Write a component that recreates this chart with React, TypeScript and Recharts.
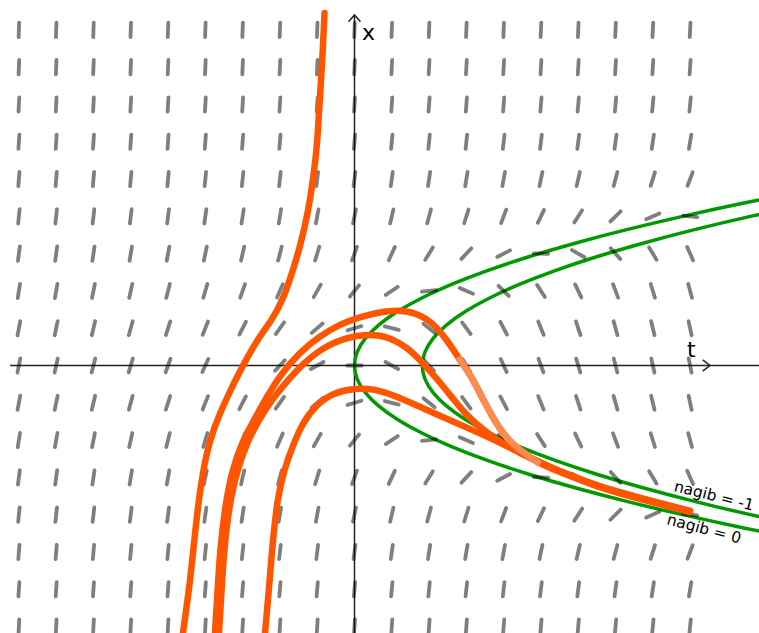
import React from 'react';
import { ComposedChart, XAxis, YAxis, Line, Scatter, ReferenceLine } from 'recharts';

// ---- view (t horizontal, x vertical) ----
const T_DOMAIN: [number, number] = [-5.2286, 5.9661];
const X_DOMAIN: [number, number] = [-3.9454, 5.3909];

// ---- slope field grid (x' = x^2 - t) ----
const fieldT = [-4.95, -4.4, -3.85, -3.3, -2.75, -2.2, -1.65, -1.1, -0.55, 0, 0.55, 1.1, 1.65, 2.2, 2.75, 3.3, 3.85, 4.4, 4.95];
const fieldX = [4.95, 4.4, 3.85, 3.3, 2.75, 2.2, 1.65, 1.1, 0.55, 0, -0.55, -1.1, -1.65, -2.2, -2.75, -3.3, -3.85];

const slopeRow9 = [29.45, 28.9, 28.35, 27.8, 27.25, 26.7, 26.15, 25.6, 25.05, 24.5, 23.95, 23.4, 22.85, 22.3, 21.75, 21.2, 20.65, 20.1, 19.55];
const slopeRow8 = [24.31, 23.76, 23.21, 22.66, 22.11, 21.56, 21.01, 20.46, 19.91, 19.36, 18.81, 18.26, 17.71, 17.16, 16.61, 16.06, 15.51, 14.96, 14.41];
const slopeRow7 = [19.77, 19.22, 18.67, 18.12, 17.57, 17.02, 16.47, 15.92, 15.37, 14.82, 14.27, 13.72, 13.17, 12.62, 12.07, 11.52, 10.97, 10.42, 9.87];
const slopeRow6 = [15.84, 15.29, 14.74, 14.19, 13.64, 13.09, 12.54, 11.99, 11.44, 10.89, 10.34, 9.79, 9.24, 8.69, 8.14, 7.59, 7.04, 6.49, 5.94];
const slopeRow5 = [12.51, 11.96, 11.41, 10.86, 10.31, 9.76, 9.21, 8.66, 8.11, 7.56, 7.01, 6.46, 5.91, 5.36, 4.81, 4.26, 3.71, 3.16, 2.61];
const slopeRow4 = [9.79, 9.24, 8.69, 8.14, 7.59, 7.04, 6.49, 5.94, 5.39, 4.84, 4.29, 3.74, 3.19, 2.64, 2.09, 1.54, 0.99, 0.44, -0.11];
const slopeRow3 = [7.67, 7.12, 6.57, 6.02, 5.47, 4.92, 4.37, 3.82, 3.27, 2.72, 2.17, 1.62, 1.07, 0.52, -0.03, -0.58, -1.13, -1.68, -2.23];
const slopeRow2 = [6.16, 5.61, 5.06, 4.51, 3.96, 3.41, 2.86, 2.31, 1.76, 1.21, 0.66, 0.11, -0.44, -0.99, -1.54, -2.09, -2.64, -3.19, -3.74];
const slopeRow1 = [5.25, 4.7, 4.15, 3.6, 3.05, 2.5, 1.95, 1.4, 0.85, 0.3, -0.25, -0.8, -1.35, -1.9, -2.45, -3.0, -3.55, -4.1, -4.65];
const slopeRow0 = [4.95, 4.4, 3.85, 3.3, 2.75, 2.2, 1.65, 1.1, 0.55, 0, -0.55, -1.1, -1.65, -2.2, -2.75, -3.3, -3.85, -4.4, -4.95];
// rows from top (x = 4.95) to bottom (x = -3.85); the field is symmetric in x
const slopeRows = [slopeRow9, slopeRow8, slopeRow7, slopeRow6, slopeRow5, slopeRow4, slopeRow3, slopeRow2, slopeRow1, slopeRow0,
  slopeRow1, slopeRow2, slopeRow3, slopeRow4, slopeRow5, slopeRow6, slopeRow7];

// ---- isoclines (green) as [t, x] points ----
const isoZero = [
  [6.76, 2.6], [5.76, 2.4], [4.84, 2.2], [4.0, 2.0], [3.24, 1.8], [2.56, 1.6], [1.96, 1.4], [1.44, 1.2], [1.0, 1.0], [0.64, 0.8],
  [0.36, 0.6], [0.16, 0.4], [0.04, 0.2], [0, 0], [0.04, -0.2], [0.16, -0.4], [0.36, -0.6], [0.64, -0.8], [1.0, -1.0], [1.44, -1.2],
  [1.96, -1.4], [2.56, -1.6], [3.24, -1.8], [4.0, -2.0], [4.84, -2.2], [5.76, -2.4], [6.76, -2.6],
];
const isoMinusOne = [
  [6.76, 2.4], [5.84, 2.2], [5.0, 2.0], [4.24, 1.8], [3.56, 1.6], [2.96, 1.4], [2.44, 1.2], [2.0, 1.0], [1.64, 0.8], [1.36, 0.6],
  [1.16, 0.4], [1.04, 0.2], [1.0, 0], [1.04, -0.2], [1.16, -0.4], [1.36, -0.6], [1.64, -0.8], [2.0, -1.0], [2.44, -1.2], [2.96, -1.4],
  [3.56, -1.6], [4.24, -1.8], [5.0, -2.0], [5.84, -2.2], [6.76, -2.4],
];

// ---- solution curves (orange) as [t, x] points ----
const solA = [
  [-2.53, -3.945], [-2.426, -3.208], [-2.353, -2.47], [-2.279, -1.836], [-2.19, -1.32], [-2.087, -0.951], [-1.881, -0.465],
  [-1.66, -0.022], [-1.438, 0.376], [-1.217, 0.671], [-1.055, 0.966], [-0.907, 1.409], [-0.804, 1.748], [-0.686, 2.249],
  [-0.612, 2.736], [-0.553, 3.223], [-0.524, 3.724], [-0.494, 4.211], [-0.465, 4.698], [-0.442, 5.199],
];
const solB = [
  [-2.058, -3.945], [-2.028, -3.459], [-1.984, -2.721], [-1.91, -2.088], [-1.807, -1.541], [-1.645, -1.099], [-1.482, -0.804],
  [-1.32, -0.509], [-1.099, -0.14], [-0.804, 0.199], [-0.509, 0.435], [-0.214, 0.612], [0.081, 0.715], [0.376, 0.789],
  [0.642, 0.819], [0.922, 0.774], [1.158, 0.627], [1.364, 0.376], [1.527, 0.125], [1.659, -0.066], [1.748, -0.214],
  [1.851, -0.406], [1.954, -0.612], [2.146, -0.951], [2.338, -1.173], [2.544, -1.32], [2.736, -1.453], [3.134, -1.615],
  [3.621, -1.792], [4.211, -1.954], [4.948, -2.146],
];
const solBLight = [
  [1.527, 0.125], [1.659, -0.066], [1.748, -0.214], [1.851, -0.406], [1.954, -0.612], [2.146, -0.951], [2.338, -1.173], [2.544, -1.32], [2.736, -1.453],
];
const solC = [
  [-1.999, -3.945], [-1.969, -3.459], [-1.925, -2.721], [-1.851, -2.088], [-1.733, -1.541], [-1.571, -1.099], [-1.409, -0.804],
  [-1.246, -0.538], [-0.981, -0.214], [-0.73, 0.052], [-0.509, 0.229], [-0.288, 0.347], [-0.066, 0.42], [0.155, 0.45],
  [0.347, 0.45], [0.524, 0.406], [0.774, 0.273], [1.01, 0.037], [1.232, -0.214], [1.468, -0.509], [1.674, -0.76],
  [1.954, -0.996], [2.294, -1.217], [2.633, -1.394], [3.134, -1.6], [3.621, -1.792], [4.211, -1.954], [4.948, -2.146],
];
const solD = [
  [-1.32, -3.945], [-1.276, -3.459], [-1.217, -2.721], [-1.143, -1.984], [-1.04, -1.541], [-0.907, -1.173], [-0.76, -0.833],
  [-0.553, -0.568], [-0.317, -0.406], [0.007, -0.332], [0.302, -0.347], [0.568, -0.435], [0.922, -0.59], [1.217, -0.723],
  [1.659, -0.915], [2.146, -1.136], [2.633, -1.379], [3.134, -1.608], [3.621, -1.807], [4.211, -1.969], [4.948, -2.161],
];

// ---- axes and arrows ----
const tAxisStart = -5.081;
const xAxisTop = 5.17;
const xArrow = [[-0.088, 5.07], [0, 5.17], [0.088, 5.07]];
const tArrow = [[5.136, 0.084], [5.243, 0], [5.136, -0.084]];

// ---- texts ----
const labels = [
  { t: 0.11, x: 4.8, text: 'x', size: 22, rot: 0, anchor: 'start' },
  { t: 4.904, x: 0.125, text: 't', size: 22, rot: 0, anchor: 'start' },
  { t: 5.302, x: -1.925, text: 'nagib = -1', size: 15.5, rot: 14, anchor: 'middle' },
  { t: 5.155, x: -2.411, text: 'nagib = 0', size: 15.5, rot: 15, anchor: 'middle' },
];

const toPts = (arr: number[][]) => arr.map(([t, x]) => ({ t, x }));

const fieldPoints: { t: number; x: number; s: number }[] = [];
fieldX.forEach((x, i) => {
  fieldT.forEach((t, j) => {
    fieldPoints.push({ t, x, s: slopeRows[i][j] });
  });
});

const Dash = (props: any) => {
  const { cx, cy } = props;
  const p = props.payload ?? props;
  if (cx == null || cy == null) return <g />;
  const a = Math.atan(p.s);
  const L = 7.2;
  const dx = L * Math.cos(a);
  const dy = L * Math.sin(a);
  return (
    <line x1={cx - dx} y1={cy + dy} x2={cx + dx} y2={cy - dy} stroke="#000" strokeOpacity={0.5} strokeWidth={3.8} strokeLinecap="round" />
  );
};

const TextMark = (props: any) => {
  const { cx, cy } = props;
  const p = props.payload ?? props;
  if (cx == null || cy == null) return <g />;
  return (
    <text
      x={cx}
      y={cy}
      fontSize={p.size}
      fontFamily="DejaVu Sans, sans-serif"
      fill="#000"
      textAnchor={p.anchor}
      dominantBaseline={p.anchor === 'middle' ? 'central' : 'auto'}
      transform={p.rot ? `rotate(${p.rot} ${cx} ${cy})` : undefined}
    >
      {p.text}
    </text>
  );
};

const ORANGE = '#ff5500';
const GREEN = '#009900';
const OW = 6.5;

export default function App() {
  return (
    <div style={{ position: 'fixed', left: 0, top: 0, width: 759, height: 633, background: '#fff' }}>
      <ComposedChart width={759} height={633} margin={{ top: 0, right: 0, bottom: 0, left: 0 }}>
        <XAxis type="number" dataKey="t" domain={T_DOMAIN} allowDataOverflow hide />
        <YAxis type="number" dataKey="x" domain={X_DOMAIN} allowDataOverflow hide />
        <ReferenceLine
          segment={[{ x: tAxisStart, y: 0 }, { x: T_DOMAIN[1], y: 0 }]}
          stroke="#222"
          strokeWidth={1.5}
          ifOverflow="visible"
          zIndex={100}
        />
        <ReferenceLine
          segment={[{ x: 0, y: X_DOMAIN[0] }, { x: 0, y: xAxisTop }]}
          stroke="#222"
          strokeWidth={1.5}
          ifOverflow="visible"
          zIndex={100}
        />
        <Line data={toPts(xArrow)} dataKey="x" type="linear" stroke="#222" strokeWidth={1.5} dot={false} activeDot={false} isAnimationActive={false} zIndex={110} />
        <Line data={toPts(tArrow)} dataKey="x" type="linear" stroke="#222" strokeWidth={1.5} dot={false} activeDot={false} isAnimationActive={false} zIndex={110} />
        <Line data={toPts(isoZero)} dataKey="x" type="natural" stroke={GREEN} strokeWidth={3.5} dot={false} activeDot={false} isAnimationActive={false} zIndex={200} />
        <Line data={toPts(isoMinusOne)} dataKey="x" type="natural" stroke={GREEN} strokeWidth={3.5} dot={false} activeDot={false} isAnimationActive={false} zIndex={200} />
        <Scatter data={fieldPoints} dataKey="x" shape={Dash} isAnimationActive={false} zIndex={300} />
        <Line data={toPts(solA)} dataKey="x" type="basis" stroke={ORANGE} strokeWidth={OW} strokeLinecap="round" dot={false} activeDot={false} isAnimationActive={false} zIndex={400} />
        <Line data={toPts(solD)} dataKey="x" type="basis" stroke={ORANGE} strokeWidth={OW} strokeLinecap="round" dot={false} activeDot={false} isAnimationActive={false} zIndex={400} />
        <Line data={toPts(solC)} dataKey="x" type="basis" stroke={ORANGE} strokeWidth={OW} strokeLinecap="round" dot={false} activeDot={false} isAnimationActive={false} zIndex={400} />
        <Line data={toPts(solB)} dataKey="x" type="basis" stroke={ORANGE} strokeWidth={OW} strokeLinecap="round" dot={false} activeDot={false} isAnimationActive={false} zIndex={400} />
        <Line data={toPts(solBLight)} dataKey="x" type="basis" stroke="#ff8a50" strokeWidth={OW} dot={false} activeDot={false} isAnimationActive={false} zIndex={450} />
        <Scatter data={labels} dataKey="x" shape={TextMark} isAnimationActive={false} zIndex={600} />
      </ComposedChart>
    </div>
  );
}
